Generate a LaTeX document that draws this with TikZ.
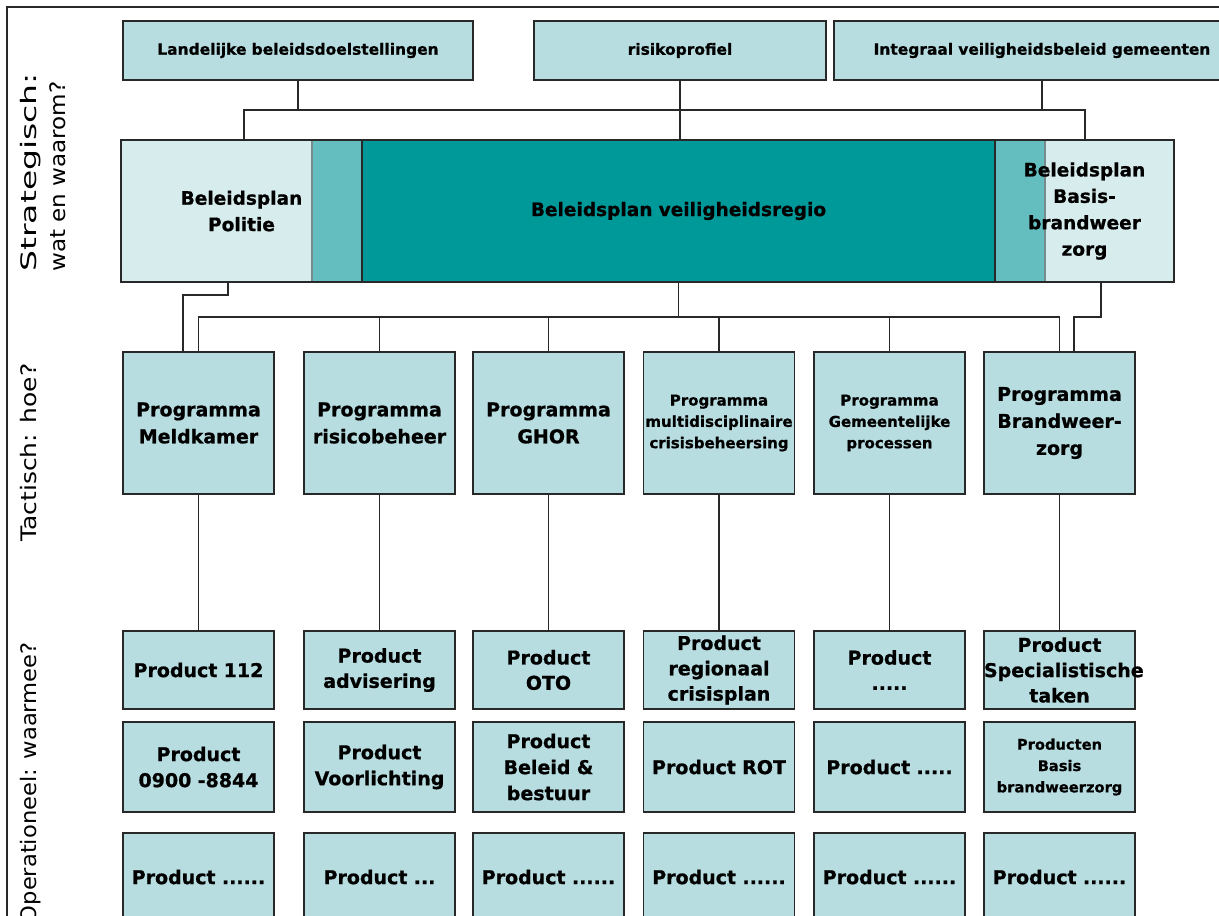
\documentclass[tikz,border=0pt]{standalone}
\usepackage{fontspec}
\setmainfont{DejaVu Sans}[BoldFeatures={FakeBold=0.8}]
\definecolor{boxcol}{RGB}{183,221,224}
\definecolor{darkteal}{RGB}{0,153,153}
\definecolor{linecol}{RGB}{40,40,40}
\tikzset{
  conn/.style={draw=linecol, line width=1.4pt},
  framel/.style={draw=linecol, line width=1.4pt},
  bx/.style={draw=linecol, line width=1.4pt, fill=boxcol, inner sep=0pt, align=center, text width=113.25pt},
  topbox/.style={bx, minimum height=44.25pt, font=\bfseries\fontsize{11.6}{14}\selectfont},
  planbox/.style={draw=linecol, line width=1.4pt, fill=boxcol, fill opacity=0.55, draw opacity=1, text opacity=1,
     inner sep=0pt, align=center, minimum height=106.5pt, font=\bfseries\fontsize{13.9}{19.8}\selectfont},
  regbox/.style={draw=linecol, line width=1.4pt, fill=darkteal, inner sep=0pt, align=center, text width=549.75pt,
     minimum height=106.5pt, font=\bfseries\fontsize{13.9}{19.5}\selectfont},
  prog/.style={bx, minimum height=106.5pt, font=\bfseries\fontsize{14.25}{20.25}\selectfont},
  progsmall/.style={bx, minimum height=106.5pt, font=\bfseries\fontsize{11.25}{16}\selectfont},
  prodA/.style={bx, minimum height=58.5pt, font=\bfseries\fontsize{14.25}{19}\selectfont},
  prodB/.style={bx, minimum height=67.5pt, font=\bfseries\fontsize{14.25}{19.5}\selectfont},
  prodC/.style={bx, minimum height=66pt, font=\bfseries\fontsize{14.25}{19}\selectfont},
  prodsmall/.style={bx, minimum height=67.5pt, font=\bfseries\fontsize{11}{16}\selectfont},
  lab/.style={rotate=90, inner sep=0pt, font=\fontsize{16}{18}\selectfont},
}
\begin{document}
\begin{tikzpicture}[x=0.75pt,y=-0.75pt]
\useasboundingbox (0,0) rectangle (1219,915);
\clip (0,0) rectangle (1219,915);
\fill[white] (0,0) rectangle (1219,915);
% frame
\draw[framel] (1230,7) -- (7,7) -- (7,930);

% side labels
\node[lab, anchor=base west] (l1) at (36,272) {\scalebox{1.55}[1]{Strategisch:}};
\node[lab, anchor=base west] (l2) at (65,272) {\scalebox{1.08}[1]{wat en waarom?}};
\node[lab, anchor=base west] (l3) at (36,542) {\scalebox{1.17}[1]{Tactisch: hoe?}};
\node[lab, anchor=base east] (l4) at (36,642) {\scalebox{1.06}[1]{Operationeel: waarmee?}};

% top row
\node[topbox, text width=262.5pt] (t1) at (298,50.5) {Landelijke beleidsdoelstellingen};
\node[topbox, text width=219pt] (t2) at (680,50.5) {risikoprofiel};
\node[topbox, text width=312pt] (t3) at (1042,50.5) {Integraal veiligheidsbeleid gemeenten};

% band
\node[regbox] (reg) at (678.5,211) {Beleidsplan veiligheidsregio};
\node[planbox, text width=180.75pt] (pol) at (241.5,211) {Beleidsplan\\Politie};
\node[planbox, text width=134.25pt] (bas) at (1084.5,211) {Beleidsplan\\Basis-\\brandweer\\zorg};

% programmes
\node[prog] (p1) at (198.5,423) {Programma\\Meldkamer};
\node[prog] (p2) at (379.5,423) {Programma\\risicobeheer};
\node[prog] (p3) at (548.5,423) {Programma\\GHOR};
\node[progsmall] (p4) at (719,423) {Programma\\multidisciplinaire\\crisisbeheersing};
\node[progsmall] (p5) at (889.5,423) {Programma\\Gemeentelijke\\processen};
\node[prog] (p6) at (1059.5,423) {Programma\\Brandweer-\\zorg};

% products row 1
\node[prodA] (q1) at (198.5,670) {Product 112};
\node[prodA] (q2) at (379.5,670) {Product\\advisering};
\node[prodA] (q3) at (548.5,670) {Product\\OTO};
\node[prodA] (q4) at (719,670) {Product\\regionaal\\crisisplan};
\node[prodA] (q5) at (889.5,670) {Product\\.....};
\node[prodA] (q6) at (1059.5,670) {Product\\Specialistische\\taken};

% products row 2
\node[prodB] (r1) at (198.5,767) {Product\\0900 -8844};
\node[prodB] (r2) at (379.5,767) {Product\\Voorlichting};
\node[prodB] (r3) at (548.5,767) {Product\\Beleid \&\\bestuur};
\node[prodB] (r4) at (719,767) {Product ROT};
\node[prodB] (r5) at (889.5,767) {Product .....};
\node[prodsmall] (r6) at (1059.5,767) {Producten\\Basis\\brandweerzorg};

% products row 3
\node[prodC] (s1) at (198.5,877) {Product ......};
\node[prodC] (s2) at (379.5,877) {Product ...};
\node[prodC] (s3) at (548.5,877) {Product ......};
\node[prodC] (s4) at (719,877) {Product ......};
\node[prodC] (s5) at (889.5,877) {Product ......};
\node[prodC] (s6) at (1059.5,877) {Product ......};

% connectors top
\coordinate (hl) at (244,110);
\coordinate (hr) at (1085,110);
\draw[conn] (t1.south) -- (t1.south |- hl);
\draw[conn] (hl |- pol.north) -- (hl) -- (hr) -- (hr |- bas.north);
\draw[conn] (t2.south) -- (t2.south |- reg.north);
\draw[conn] (t3.south) -- (t3.south |- hr);

% connectors band -> programmes
\coordinate (a1) at (228,295);
\coordinate (a2) at (183,295);
\draw[conn] (a1 |- pol.south) -- (a1) -- (a2) -- (a2 |- p1.north);
\coordinate (bus) at (0,317);
\draw[conn] (reg.south) -- (reg.south |- bus);
\draw[conn] (p1.north) -- (p1.north |- bus) -- (p6.north |- bus) -- (p6.north);
\foreach \i in {2,...,5} \draw[conn] (p\i.north) -- (p\i.north |- bus);
\coordinate (b1) at (1101,317);
\coordinate (b2) at (1074,317);
\draw[conn] (b1 |- bas.south) -- (b1) -- (b2) -- (b2 |- p6.north);

% programmes -> products
\foreach \i in {1,...,6} \draw[conn] (p\i.south) -- (q\i.north);
\end{tikzpicture}
\end{document}
